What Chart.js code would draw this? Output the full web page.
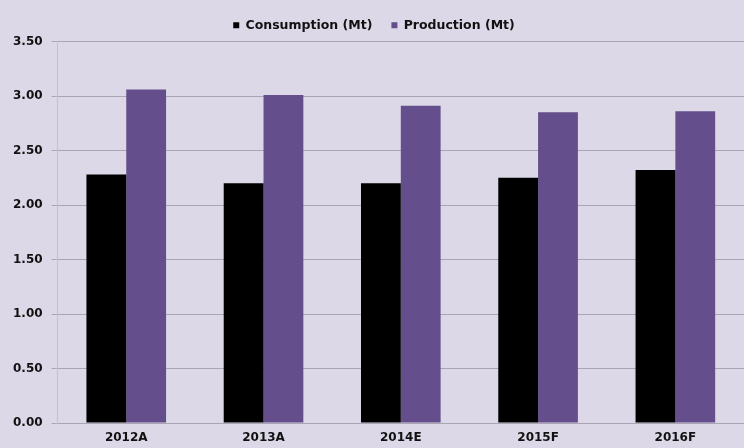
<!DOCTYPE html>
<html>
<head>
<meta charset="utf-8">
<script src="https://cdn.jsdelivr.net/npm/chart.js@4/dist/chart.umd.min.js"></script>
<style>
  html, body { margin: 0; padding: 0; background: #dcd8e8; }
  #wrap { width: 744px; height: 448px; }
</style>
</head>
<body>
<div id="wrap"><canvas id="chart"></canvas></div>
<script>
const categories = ["2012A", "2013A", "2014E", "2015F", "2016F"];
const consumption = [2.28, 2.20, 2.20, 2.25, 2.32];
const production = [3.06, 3.01, 2.91, 2.85, 2.86];

const bg = {
  id: "bg",
  beforeDraw(chart) {
    const ctx = chart.ctx;
    ctx.save();
    ctx.fillStyle = "#dcd8e8";
    ctx.fillRect(0, 0, chart.width, chart.height);
    ctx.restore();
  }
};

const tickFont = { family: "DejaVu Sans", size: 12, weight: "bold" };

new Chart(document.getElementById("chart"), {
  type: "bar",
  data: {
    labels: categories,
    datasets: [
      { label: "Consumption (Mt)", data: consumption, backgroundColor: "#000000" },
      { label: "Production (Mt)", data: production, backgroundColor: "#654e8c" }
    ]
  },
  options: {
    responsive: true,
    maintainAspectRatio: false,
    animation: false,
    layout: { padding: { top: 0, right: 0, left: 4, bottom: 0 } },
    datasets: { bar: { categoryPercentage: 0.58, barPercentage: 1.0 } },
    plugins: {
      legend: {
        position: "top",
        labels: {
          boxWidth: 6, boxHeight: 6, padding: 19, color: "#111",
          font: { family: "DejaVu Sans", size: 12.5, weight: "bold" }
        }
      },
      tooltip: { enabled: false }
    },
    scales: {
      x: {
        grid: { display: false, drawTicks: false },
        border: { display: true, color: "#a9a5b5" },
        ticks: { color: "#111", padding: 8, font: tickFont },
        afterFit: s => { s.height = 25; }
      },
      y: {
        min: 0, max: 3.5,
        ticks: {
          stepSize: 0.5, color: "#111", padding: 9,
          font: tickFont,
          callback: v => v.toFixed(2)
        },
        grid: { color: "#a9a5b5", drawTicks: true, tickLength: 6 },
        border: { display: true, color: "#c4c0d0" }
      }
    }
  },
  plugins: [bg]
});
</script>
</body>
</html>
